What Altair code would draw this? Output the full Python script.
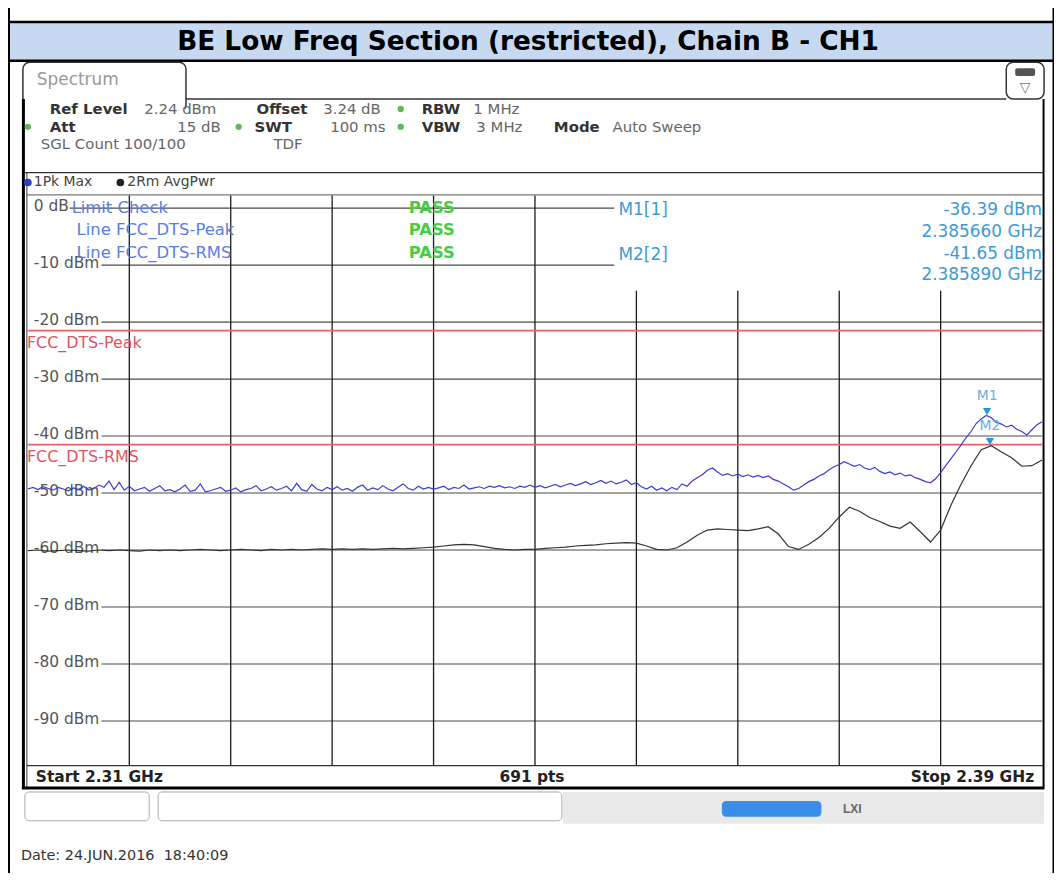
import altair as alt
import pandas as pd

# ---------------- data ----------------
TITLE = "BE Low Freq Section (restricted), Chain B - CH1"
F_START, F_STOP = 2.31, 2.39          # GHz
REF_TOP, REF_BOTTOM = 2.24, -97.76     # dBm (ref level 2.24 dBm, 100 dB range)

grid_levels = [0, -10, -20, -30, -40, -50, -60, -70, -80, -90]
grid_labels = ["0 dB", "-10 dBm", "-20 dBm", "-30 dBm", "-40 dBm",
               "-50 dBm", "-60 dBm", "-70 dBm", "-80 dBm", "-90 dBm"]
grid_freqs = [2.318, 2.326, 2.334, 2.342, 2.350, 2.358, 2.366, 2.374, 2.382]

limit_names = ["FCC_DTS-Peak", "FCC_DTS-RMS"]
limit_levels = [-21.5, -41.5]

marker_names = ["M1", "M2"]
marker_freqs = [2.38566, 2.38589]
marker_levels = [-36.39, -41.65]

# Trace 1: Pk Max, 0.4 MHz spacing
pk_step = 0.0004
pk_dbm = [
    -49.3, -49.0, -49.4, -48.9, -49.2, -49.5, -49.0, -49.3, -49.6, -49.1,
    -49.4, -48.8, -49.5, -49.2, -48.6, -49.0, -47.9, -49.4, -48.1, -49.5,
    -48.8, -49.6, -49.3, -49.0, -49.7, -49.2, -48.7, -49.6, -49.4, -49.8,
    -49.3, -48.6, -49.7, -49.5, -48.4, -49.8, -49.6, -49.3, -49.0, -49.7,
    -49.5, -49.1, -49.8, -49.4, -49.2, -48.7, -49.6, -49.3, -48.9, -49.5,
    -49.2, -48.8, -49.6, -48.3, -49.4, -49.7, -48.5, -49.3, -49.6, -49.0,
    -49.4, -48.9, -49.5, -49.2, -49.7, -49.0, -48.6, -49.5, -49.1, -49.4,
    -48.7, -49.3, -49.6, -49.0, -48.4, -49.2, -49.5, -48.8, -49.3, -49.0,
    -49.3, -49.1, -48.8, -49.4, -49.0, -49.2, -48.6, -49.3, -49.1, -48.9,
    -49.2, -48.8, -49.0, -48.7, -49.1, -48.9, -49.2, -48.8, -49.0, -48.6,
    -49.0, -48.7, -49.1, -48.8, -48.5, -48.9, -48.6, -48.3, -48.7, -48.4,
    -48.0, -48.5, -48.2, -47.8, -48.3, -47.9, -48.4, -48.1, -47.7, -48.5,
    -48.2, -48.9, -49.3, -48.8, -49.5, -49.1, -49.6, -49.0, -49.4, -48.4,
    -48.8, -47.9, -47.3, -46.8, -46.0, -45.6, -46.3, -46.9, -46.6, -47.0,
    -46.7, -47.1, -46.8, -47.2, -46.9, -47.3, -47.0, -47.6, -47.9, -48.4,
    -48.9, -49.5, -49.2, -48.6, -48.0, -47.6, -47.0, -46.6, -45.9, -45.4,
    -45.0, -44.5, -44.9, -45.3, -45.0, -45.6, -45.9, -45.5, -46.2, -46.6,
    -46.3, -46.8, -46.5, -47.0, -46.8, -47.3, -47.6, -48.0, -48.2, -47.5,
    -46.4, -45.2, -44.0, -42.8, -41.6, -40.3, -39.2, -37.8, -37.0, -36.4,
    -36.8, -37.6, -37.9, -38.4, -38.1, -38.8, -39.2, -39.8, -38.9, -38.0,
    -37.5,
]

# Trace 2: RMS AvgPwr, 0.8 MHz spacing
rms_step = 0.0008
rms_dbm = [
    -60.1, -60.0, -60.2, -60.1, -60.0, -60.1, -60.2, -60.0, -60.1, -60.0,
    -60.1, -60.2, -60.0, -60.1, -60.0, -60.1, -60.0, -59.9, -60.0, -60.1,
    -60.0, -59.9, -60.0, -60.1, -59.9, -60.0, -59.9, -60.0, -59.9, -59.8,
    -59.9, -59.8, -59.9, -59.8, -59.9, -59.8, -59.7, -59.8, -59.7, -59.6,
    -59.5, -59.3, -59.1, -59.0, -59.1, -59.4, -59.7, -59.9, -60.0, -59.9,
    -59.9, -59.7, -59.6, -59.5, -59.3, -59.2, -59.1, -58.9, -58.8, -58.7,
    -58.8, -59.3, -59.9, -60.0, -59.6, -58.6, -57.4, -56.5, -56.3, -56.4,
    -56.5, -56.6, -56.3, -55.9, -57.2, -59.4, -59.9, -59.0, -57.8, -56.2,
    -54.2, -52.5, -53.2, -54.3, -55.0, -55.8, -56.2, -55.1, -56.8, -58.6,
    -56.5, -52.2, -48.5, -45.2, -42.4, -41.7, -42.8, -43.8, -45.3, -45.2,
    -44.2,
]

pk_freq = [round(F_START + i * pk_step, 6) for i in range(len(pk_dbm))]
rms_freq = [round(F_START + i * rms_step, 6) for i in range(len(rms_dbm))]

# ---------------- layout ----------------
OX, OY = 28, 194          # page position of plot-area origin
W, H = 1020, 573
FONT = "DejaVu Sans"


def px(v):
    return v - OX


def py(v):
    return v - OY


XS = alt.Scale(domain=[F_START, F_STOP], nice=False, zero=False)
YS = alt.Scale(domain=[REF_BOTTOM, REF_TOP], nice=False, zero=False)


def rects(items, **props):
    df = pd.DataFrame([{"x": px(a), "x2": px(b), "y": py(c), "y2": py(d)} for a, b, c, d in items])
    return alt.Chart(df).mark_rect(**props).encode(
        x=alt.X("x:Q", scale=None, axis=None), x2="x2:Q",
        y=alt.Y("y:Q", scale=None, axis=None), y2="y2:Q")


def rules(items, **props):
    df = pd.DataFrame([{"x": px(a), "x2": px(b), "y": py(c), "y2": py(d)} for a, b, c, d in items])
    return alt.Chart(df).mark_rule(**props).encode(
        x=alt.X("x:Q", scale=None, axis=None), x2="x2:Q",
        y=alt.Y("y:Q", scale=None, axis=None), y2="y2:Q")


def texts(items, **props):
    df = pd.DataFrame([{"x": px(a), "y": py(b), "t": t} for a, b, t in items])
    return alt.Chart(df).mark_text(**props).encode(
        x=alt.X("x:Q", scale=None, axis=None),
        y=alt.Y("y:Q", scale=None, axis=None), text="t:N")


def dots(items, color, size):
    df = pd.DataFrame([{"x": px(a), "y": py(b)} for a, b in items])
    return alt.Chart(df).mark_point(filled=True, shape="circle", color=color, size=size, opacity=1).encode(
        x=alt.X("x:Q", scale=None, axis=None), y=alt.Y("y:Q", scale=None, axis=None))


layers = []

# title band
layers.append(rects([(0, 1062, 20, 58)], color="#c6d9f1"))
layers.append(rules([(0, 1062, 19.5, 19.5), (0, 1062, 58.5, 58.5)], color="black", strokeWidth=2.5))
layers.append(rules([(9, 9, 0, 886), (1059.5, 1059.5, 0, 886)], color="black", strokeWidth=2))
layers.append(texts([(531, 40, TITLE)], font=FONT, fontSize=26.5, fontWeight="bold", color="black", align="center"))

# spectrum tab + icon box
layers.append(rects([(23, 187, 60, 110)], fill="white", stroke="#333", strokeWidth=1.5, cornerRadius=7))
layers.append(rects([(1012, 1050, 60, 97)], fill="white", stroke="#333", strokeWidth=1.5, cornerRadius=7))
layers.append(rects([(1021, 1041, 66, 74)], color="#555", cornerRadius=2))
layers.append(texts([(1031, 86, "▽")], font=FONT, fontSize=14, color="#777", align="center"))
layers.append(rules([(187, 1012, 97, 97)], color="#333", strokeWidth=1.5))
layers.append(rects([(24.5, 186, 98, 112)], color="white"))
layers.append(texts([(37, 78, "Spectrum")], font=FONT, fontSize=17, color="#999", align="left"))

# panel borders
layers.append(rects([(22, 25, 97, 791)], color="black"))
layers.append(rules([(27, 27, 171, 790)], color="#333", strokeWidth=1))
layers.append(rules([(1049.5, 1049.5, 97, 791)], color="black", strokeWidth=2))
layers.append(rules([(25, 1049, 171, 171)], color="#333", strokeWidth=1.2))
layers.append(rules([(27, 1049, 193.5, 193.5)], color="#555", strokeWidth=1))
layers.append(rules([(27, 1049, 767.5, 767.5)], color="#333", strokeWidth=1.2))
layers.append(rules([(22, 1050, 790, 790)], color="black", strokeWidth=3))

# header texts
HF = 15
layers.append(texts([(50, 107, "Ref Level"), (258, 107, "Offset"), (424, 107, "RBW"),
                     (50, 125, "Att"), (256, 125, "SWT"), (424, 125, "VBW"), (557, 125, "Mode")],
                    font=FONT, fontSize=HF, fontWeight="bold", color="#333", align="left"))
layers.append(texts([(145, 107, "2.24 dBm"), (325, 107, "3.24 dB"), (476, 107, "1 MHz"),
                     (332, 125, "100 ms"), (479, 125, "3 MHz"), (616, 125, "Auto Sweep"),
                     (41, 142, "SGL Count 100/100"), (275, 142, "TDF")],
                    font=FONT, fontSize=HF, color="#666", align="left"))
layers.append(texts([(222, 125, "15 dB")], font=FONT, fontSize=HF, color="#666", align="right"))
layers.append(dots([(28, 125), (240, 125), (403, 125), (403, 107)], "#5cb85c", 40))
layers.append(dots([(28, 181)], "#2a3fbf", 60))
layers.append(dots([(121, 181)], "#222", 60))
layers.append(texts([(34, 181, "1Pk Max"), (128, 181, "2Rm AvgPwr")],
                    font=FONT, fontSize=14, color="#444", align="left"))

# bottom bar
layers.append(texts([(36, 779, "Start 2.31 GHz")], font=FONT, fontSize=15.5, fontWeight="bold", color="#222", align="left"))
layers.append(texts([(535, 779, "691 pts")], font=FONT, fontSize=15.5, fontWeight="bold", color="#222", align="center"))
layers.append(texts([(1040, 779, "Stop 2.39 GHz")], font=FONT, fontSize=15.5, fontWeight="bold", color="#222", align="right"))

# status bar
layers.append(rects([(566, 1050, 794, 826)], color="#e9e9e9"))
layers.append(rects([(25, 150, 794, 823), (159, 565, 794, 823)], fill="white", stroke="#aaa", strokeWidth=1, cornerRadius=4))
layers.append(rects([(726, 826, 803, 819)], color="#3a8ee8", cornerRadius=4))
layers.append(texts([(857, 811, "LXI")], font="Liberation Sans", fontSize=12, fontWeight="bold", color="#666", align="center"))
layers.append(texts([(21, 858, "Date: 24.JUN.2016\u00a0\u00a018:40:09")], font=FONT, fontSize=14.5, color="#333", align="left"))

# ---- plot contents (data scales) ----
LBL_END_PX = 74  # horizontal grid lines start after their labels
BOX_FREQ = F_START + (618 - OX) / W * (F_STOP - F_START)
BOX_LEVEL = REF_TOP - (290 - OY) / H * (REF_TOP - REF_BOTTOM)

hg = pd.DataFrame({
    "lvl": grid_levels,
    "x0": [F_START + (42 if l == 0 else LBL_END_PX) / W * (F_STOP - F_START) for l in grid_levels],
    "x1": [BOX_FREQ if l >= -10 else F_STOP for l in grid_levels],
})
layers.append(alt.Chart(hg).mark_rule(color="#4a4a4a", strokeWidth=1.1).encode(
    x=alt.X("x0:Q", scale=XS, axis=None), x2="x1:Q", y=alt.Y("lvl:Q", scale=YS, axis=None)))

vg = pd.DataFrame({
    "f": grid_freqs,
    "y0": [REF_BOTTOM] * len(grid_freqs),
    "y1": [BOX_LEVEL if f > BOX_FREQ else REF_TOP for f in grid_freqs],
})
layers.append(alt.Chart(vg).mark_rule(color="#1a1a1a", strokeWidth=1.3).encode(
    x=alt.X("f:Q", scale=XS, axis=None), y=alt.Y("y0:Q", scale=YS, axis=None), y2="y1:Q"))

yl = pd.DataFrame({"lvl": grid_levels, "t": grid_labels, "f": [F_START] * len(grid_levels)})
layers.append(alt.Chart(yl).mark_text(font=FONT, fontSize=15.5, color="#555", align="left", dx=6, dy=-2).encode(
    x=alt.X("f:Q", scale=XS, axis=None), y=alt.Y("lvl:Q", scale=YS, axis=None), text="t:N"))

# marker info box
layers.append(rects([(618, 1048, 195, 288)], color="white"))

# limit lines
lim = pd.DataFrame({"lvl": limit_levels, "name": limit_names,
                    "f0": [F_START] * 2, "f1": [F_STOP] * 2})
layers.append(alt.Chart(lim).mark_rule(color="#e8606a", strokeWidth=1.6).encode(
    x=alt.X("f0:Q", scale=XS, axis=None), x2="f1:Q", y=alt.Y("lvl:Q", scale=YS, axis=None)))
layers.append(alt.Chart(lim).mark_text(font=FONT, fontSize=16, color="#e05560", align="left", dx=-1, dy=12).encode(
    x=alt.X("f0:Q", scale=XS, axis=None), y=alt.Y("lvl:Q", scale=YS, axis=None), text="name:N"))

# limit check texts
layers.append(texts([(72, 207, "Limit Check"), (77, 229, "Line FCC_DTS-Peak"), (77, 252, "Line FCC_DTS-RMS")],
                    font=FONT, fontSize=16.5, color="#5a7ee0", align="left"))
layers.append(texts([(411, 207, "PASS"), (411, 229, "PASS"), (411, 252, "PASS")],
                    font=FONT, fontSize=16.5, fontWeight="bold", color="#46cc46", align="left"))

# traces
pk = pd.DataFrame({"f": pk_freq, "v": pk_dbm})
rms = pd.DataFrame({"f": rms_freq, "v": rms_dbm})
layers.append(alt.Chart(rms).mark_line(color="#333333", strokeWidth=1.2).encode(
    x=alt.X("f:Q", scale=XS, axis=None), y=alt.Y("v:Q", scale=YS, axis=None)))
layers.append(alt.Chart(pk).mark_line(color="#3c3cd2", strokeWidth=1.2).encode(
    x=alt.X("f:Q", scale=XS, axis=None), y=alt.Y("v:Q", scale=YS, axis=None)))

# marker table
MF = 17
layers.append(texts([(622, 209, "M1[1]"), (622, 254, "M2[2]")], font=FONT, fontSize=MF, color="#3d9ad6", align="left"))
layers.append(texts([(1048, 209, "-36.39 dBm"), (1048, 231, "2.385660 GHz"),
                     (1048, 253, "-41.65 dBm"), (1048, 274, "2.385890 GHz")],
                    font=FONT, fontSize=MF, color="#3d9ad6", align="right"))

# markers
mk = pd.DataFrame({"name": marker_names, "f": marker_freqs, "v": marker_levels})
layers.append(alt.Chart(mk).mark_point(shape="triangle-down", filled=True, color="#2696d6", size=70, opacity=1, yOffset=-4).encode(
    x=alt.X("f:Q", scale=XS, axis=None), y=alt.Y("v:Q", scale=YS, axis=None)))
layers.append(alt.Chart(mk).mark_text(font=FONT, fontSize=14, color="#6aaee0", align="center", dy=-20).encode(
    x=alt.X("f:Q", scale=XS, axis=None), y=alt.Y("v:Q", scale=YS, axis=None), text="name:N"))

chart = alt.layer(*layers).properties(
    width=W, height=H,
    padding={"left": 20, "top": 186, "right": 12, "bottom": 106},
    autosize=alt.AutoSizeParams(type="none"),
).resolve_scale(x="independent", y="independent").configure_view(stroke=None)

chart.save("out.html", embed_options={"renderer": "svg", "actions": False})
